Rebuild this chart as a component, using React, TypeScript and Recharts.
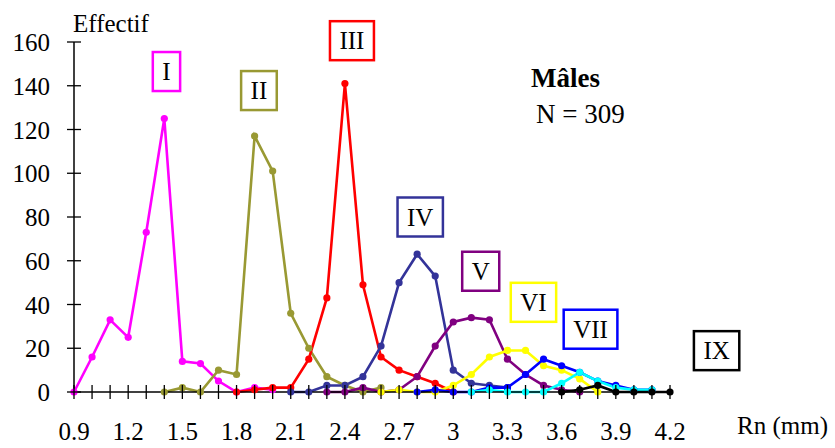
import { LineChart, Line, XAxis, YAxis, ReferenceDot } from "recharts";

// Rn (mm), one point every 0.1
const rnValues = [
  0.9, 1.0, 1.1, 1.2, 1.3, 1.4, 1.5, 1.6, 1.7, 1.8, 1.9, 2.0, 2.1, 2.2, 2.3, 2.4, 2.5,
  2.6, 2.7, 2.8, 2.9, 3.0, 3.1, 3.2, 3.3, 3.4, 3.5, 3.6, 3.7, 3.8, 3.9, 4.0, 4.1, 4.2,
];
const rnTickLabels = [0.9, 1.2, 1.5, 1.8, 2.1, 2.4, 2.7, 3.0, 3.3, 3.6, 3.9, 4.2];
const effectifTicks = [0, 20, 40, 60, 80, 100, 120, 140, 160];

// effectifs par stade, with the Rn where each series begins
const stades = ["I", "II", "III", "IV", "V", "VI", "VII", "VIII", "IX"];
const debuts = [0.9, 1.4, 1.8, 2.1, 2.3, 2.6, 2.8, 3.1, 3.6];
const effectifI = [0, 16, 33, 25, 73, 125, 14, 13, 5, 0, 2, 1];
const effectifII = [0, 2, 0, 10, 8, 117, 101, 36, 20, 7, 3, 0, 2];
const effectifIII = [0, 1, 2, 2, 15, 43, 141, 49, 16, 10, 7, 4, 0];
const effectifIV = [0, 0, 3, 3, 7, 21, 50, 63, 53, 10, 4, 3, 2];
const effectifV = [0, 0, 2, 0, 1, 7, 21, 32, 34, 33, 15, 8, 3, 1, 0];
const effectifVI = [0, 1, 0, 0, 3, 8, 16, 19, 19, 12, 10, 6, 0];
const effectifVII = [0, 1, 0, 0, 2, 2, 8, 15, 12, 9, 5, 3, 1, 1];
const effectifVIII = [0, 1, 0, 0, 0, 4, 9, 5, 2, 1, 1];
const effectifIX = [0, 1, 3, 0, 0, 0, 0];

const series = [
  effectifI, effectifII, effectifIII, effectifIV, effectifV,
  effectifVI, effectifVII, effectifVIII, effectifIX,
];

const colors = [
  "#ff00ff", "#999933", "#ff0000", "#333399", "#800080",
  "#ffff00", "#0000ff", "#00ffff", "#000000",
];

// boxed stage labels (placed in data coordinates), VIII has none
const annotations = [
  { stade: "I", x: 1.412, y: 146.5 },
  { stade: "II", x: 1.924, y: 137.8 },
  { stade: "III", x: 2.439, y: 160.6 },
  { stade: "IV", x: 2.817, y: 80.0 },
  { stade: "V", x: 3.152, y: 55.2 },
  { stade: "VI", x: 3.444, y: 41.0 },
  { stade: "VII", x: 3.760, y: 28.7 },
  { stade: "IX", x: 4.458, y: 18.9 },
];

const data = rnValues.map((rn, i) => {
  const row: Record<string, number> = { rn };
  series.forEach((vals, s) => {
    const start = rnValues.findIndex((v) => Math.abs(v - debuts[s]) < 1e-6);
    const k = i - start;
    if (k >= 0 && k < vals.length) row[stades[s]] = vals[k];
  });
  return row;
});

const FONT = '"Liberation Serif", "DejaVu Serif", serif';
const txt = { fontFamily: FONT };

const XTick = (props: any) => {
  const { x, y, payload } = props;
  const v = payload.value;
  const labelled = rnTickLabels.some((t) => Math.abs(t - v) < 1e-6);
  return (
    <g>
      <line x1={x} x2={x} y1={y - 7} y2={y + 7} stroke="#000" strokeWidth={1.3} />
      {labelled && (
        <text x={x} y={y + 48} textAnchor="middle" fontSize={25} style={txt} fill="#000">
          {String(Number(v.toFixed(1)))}
        </text>
      )}
    </g>
  );
};

const YTick = (props: any) => {
  const { x, y, payload } = props;
  return (
    <g>
      <line x1={x - 7} x2={x + 7} y1={y} y2={y} stroke="#000" strokeWidth={1.3} />
      <text x={x - 24} y={y + 9} textAnchor="end" fontSize={25} style={txt} fill="#000">
        {payload.value}
      </text>
    </g>
  );
};

const charW: Record<string, number> = { I: 0.333, V: 0.722, X: 0.722 };

const BoxLabel = (props: any) => {
  const { cx, cy, text, color } = props;
  const fs = 25;
  const tw = text.split("").reduce((s: number, c: string) => s + (charW[c] || 0.5) * fs, 0);
  const w = tw + 19;
  const h = 39;
  return (
    <g>
      <rect x={cx - w / 2} y={cy - h / 2} width={w} height={h} fill="#fff" stroke={color} strokeWidth={2.5} />
      <text x={cx} y={cy + 8.5} textAnchor="middle" fontSize={fs} style={txt} fill="#000">
        {text}
      </text>
    </g>
  );
};

export default function App() {
  return (
    <div style={{ position: "absolute", left: 0, top: 0, width: 835, height: 448, background: "#fff", fontFamily: FONT }}>
      <LineChart
        width={835}
        height={448}
        data={data}
        margin={{ top: 42, right: 165, bottom: 0, left: 0 }}
      >
        <XAxis
          dataKey="rn"
          type="number"
          domain={[0.9, 4.2]}
          ticks={rnValues}
          interval={0}
          height={56}
          tickSize={0}
          tickMargin={0}
          tickLine={false}
          axisLine={{ stroke: "#000", strokeWidth: 1.5 }}
          tick={<XTick />}
        />
        <YAxis
          type="number"
          domain={[0, 160]}
          ticks={effectifTicks}
          interval={0}
          width={74}
          tickSize={0}
          tickMargin={0}
          tickLine={false}
          axisLine={{ stroke: "#000", strokeWidth: 1.5 }}
          tick={<YTick />}
        />
        {stades.map((s, i) => (
          <Line
            key={s}
            type="linear"
            dataKey={s}
            stroke={colors[i]}
            strokeWidth={2.6}
            dot={{ r: 3.6, fill: colors[i], stroke: colors[i], strokeWidth: 0 }}
            activeDot={false}
            isAnimationActive={false}
          />
        ))}
        {annotations.map((a) => (
          <ReferenceDot
            key={a.stade}
            x={a.x}
            y={a.y}
            r={0}
            ifOverflow="visible"
            shape={(p: any) => (
              <BoxLabel {...p} text={a.stade} color={colors[stades.indexOf(a.stade)]} />
            )}
          />
        ))}
      </LineChart>
      <svg
        width={835}
        height={448}
        style={{ position: "absolute", left: 0, top: 0, pointerEvents: "none" }}
      >
        <text x={73} y={32} fontSize={25} style={txt} fill="#000">Effectif</text>
        <text x={737} y={434} fontSize={25} style={txt} fill="#000">Rn (mm)</text>
        <text x={531} y={87} fontSize={27} fontWeight="bold" style={txt} fill="#000">Mâles</text>
        <text x={536} y={123} fontSize={27} style={{ ...txt, whiteSpace: "pre" }} fill="#000">
          N = 309
        </text>
      </svg>
    </div>
  );
}
